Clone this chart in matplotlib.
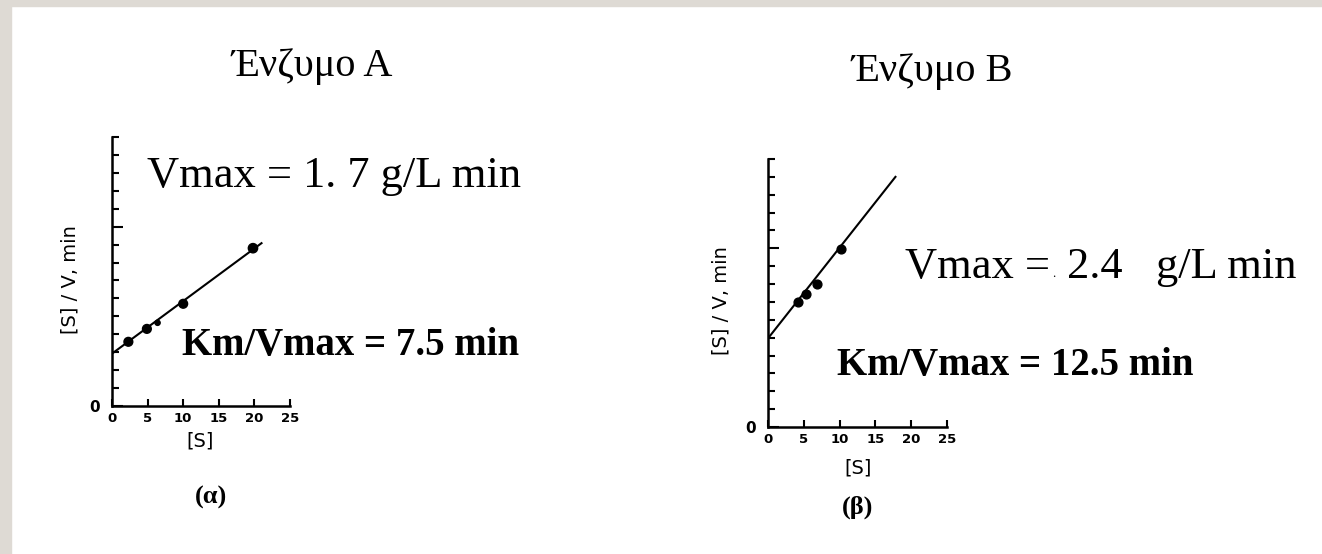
import matplotlib

matplotlib.use("Agg")
import matplotlib.pyplot as plt  # noqa: E402
from matplotlib.patches import Rectangle  # noqa: E402

W, H = 1322, 554

# dados: [S] e [S]/v (min)
s_a = [2.3, 4.9, 6.4, 10, 19.8]
v_a = [8.95, 10.75, 11.6, 14.25, 22.0]
fit_a_s = [0, 21]
fit_a_v = [7.3, 22.7]

s_b = [4.2, 5.3, 6.9, 10.2]
v_b = [17.5, 18.6, 20.0, 24.85]
fit_b_s = [0, 17.8]
fit_b_v = [12.4, 35.0]

x_ticks = [0, 5, 10, 15, 20, 25]
x_labels = ["0", "5", "10", "15", "20", "25"]

titles = ["Ένζυμο Α", "Ένζυμο Β"]
km_txt = ["Km/Vmax = 7.5 min", "Km/Vmax = 12.5 min"]
panel = ["(α)", "(β)"]


def fx(px):
    return px / W


def fy(py):
    return 1 - py / H


fig = plt.figure(figsize=(W / 100, H / 100), dpi=100)
fig.patch.set_facecolor("white")
# moldura cinza (topo e esquerda)
fig.patches.append(Rectangle((0, fy(6)), 1, 6 / H, transform=fig.transFigure,
                             color="#dedad4", zorder=0))
fig.patches.append(Rectangle((0, 0), 11 / W, 1, transform=fig.transFigure,
                             color="#dedad4", zorder=0))


def make_axes(left, axis_y, width, top):
    ax = fig.add_axes([fx(left), fy(axis_y), width / W, (axis_y - top) / H])
    ax.set_xlim(0, 25)
    ax.set_ylim(0, 37.5)
    for side in ("top", "right"):
        ax.spines[side].set_visible(False)
    for side in ("left", "bottom"):
        ax.spines[side].set_linewidth(1.8)
    ax.set_xticks(x_ticks)
    ax.set_xticklabels(x_labels, fontweight="bold")
    ax.set_yticks([0, 25])
    ax.set_yticklabels(["0", ""], fontweight="bold")
    ax.set_yticks([2.5 * i for i in range(16)], minor=True)
    ax.tick_params(axis="x", direction="in", length=5, width=1.5, pad=4,
                   labelsize=9.5)
    ax.tick_params(axis="y", which="major", direction="in", length=8,
                   width=1.5, pad=9, labelsize=11)
    ax.tick_params(axis="y", which="minor", direction="in", length=5, width=1.5)
    ax.patch.set_alpha(0)
    return ax


ax_a = make_axes(112, 406, 178, 137)
ax_a.plot(fit_a_s, fit_a_v, color="black", lw=1.5)
ax_a.scatter(s_a, v_a, s=[40, 40, 14, 40, 45], color="black", zorder=3)

ax_b = make_axes(768, 427, 179, 159)
ax_b.plot(fit_b_s, fit_b_v, color="black", lw=1.5)
ax_b.scatter(s_b, v_b, s=40, color="black", zorder=3)

serif = "Liberation Serif"

# eixos: rotulos
for cx, cy in [(200, 441), (858, 468)]:
    fig.text(fx(cx), fy(cy), "[S]", ha="center", va="center", fontsize=14)
for cx, cy in [(70, 280), (721, 301)]:
    fig.text(fx(cx), fy(cy), "[S] / V, min", ha="center", va="center",
             fontsize=14, rotation=90)

# titulos
for (cx, by), t in zip([(312, 76), (932, 81)], titles):
    fig.text(fx(cx), fy(by), t, ha="center", va="baseline", fontsize=29,
             family=serif)

# Vmax
fig.text(fx(147), fy(187), "Vmax = 1. 7 g/L min", ha="left", va="baseline",
         fontsize=32, family=serif)
fig.text(fx(905), fy(278), "Vmax =", ha="left", va="baseline",
         fontsize=32, family=serif)
fig.text(fx(1054), fy(277), ".", ha="center", va="baseline", fontsize=9,
         family=serif)
fig.text(fx(1067), fy(278), "2.4   g/L min", ha="left", va="baseline",
         fontsize=32, family=serif)

for (lx, by), t in zip([(182, 355), (837, 375)], km_txt):
    fig.text(fx(lx), fy(by), t, ha="left", va="baseline", fontsize=28,
             family=serif, fontweight="bold")

for (cx, cy), t in zip([(211, 497), (858, 507)], panel):
    fig.text(fx(cx), fy(cy), t, ha="center", va="center", fontsize=19,
             family=serif, fontweight="bold")

fig.savefig("out.png", dpi=100)
plt.close(fig)
